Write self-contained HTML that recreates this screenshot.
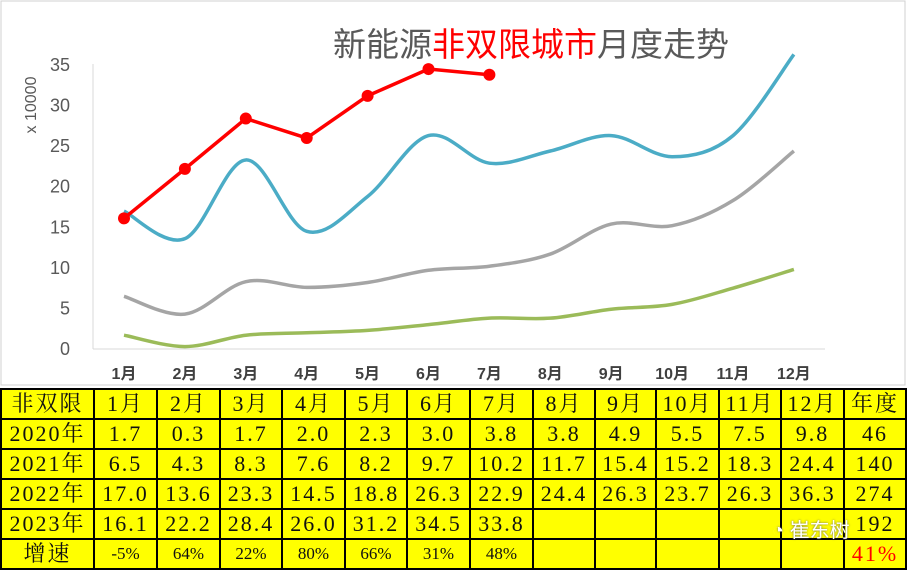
<!DOCTYPE html>
<html><head><meta charset="utf-8">
<style>
body{margin:0;width:907px;height:571px;overflow:hidden;background:#fff;font-family:"Liberation Sans","Noto Sans CJK SC",sans-serif}
#chart{position:absolute;left:0;top:0}
#tbl{position:absolute;left:0;top:388px;border-collapse:collapse;table-layout:fixed;background:#ffff00;font-family:"Liberation Serif","Noto Serif CJK SC",serif;}
#tbl td{border:2px solid #000;padding:0;text-align:center;font-size:22px;color:#111;height:28px;line-height:28px;letter-spacing:2px;white-space:nowrap;overflow:hidden;font-weight:normal}
#tbl td.s{font-size:17px;letter-spacing:0}
</style></head><body>
<svg id="chart" width="907" height="388">
<rect x="1" y="1" width="904" height="384" fill="#fff" stroke="#d0d0d0"/>
<text x="333" y="56" font-size="33" fill="#595959" font-family="Liberation Sans,Noto Sans CJK SC,sans-serif">新能源<tspan fill="#ff0000">非双限城市</tspan>月度走势</text>
<text transform="translate(36,105) rotate(-90)" font-size="16" fill="#595959" text-anchor="middle">x  10000</text>
<g id="axes"></g><g id="series"></g>
</svg>
<script>
const months=["1月","2月","3月","4月","5月","6月","7月","8月","9月","10月","11月","12月"];
const yTicks=[0,5,10,15,20,25,30,35];
const s2020=[1.7,0.3,1.7,2.0,2.3,3.0,3.8,3.8,4.9,5.5,7.5,9.8];
const s2021=[6.5,4.3,8.3,7.6,8.2,9.7,10.2,11.7,15.4,15.2,18.3,24.4];
const s2022=[17.0,13.6,23.3,14.5,18.8,26.3,22.9,24.4,26.3,23.7,26.3,36.3];
const s2023=[16.1,22.2,28.4,26.0,31.2,34.5,33.8];
const NS="http://www.w3.org/2000/svg";
const X=i=>124+i*60.9, Y=v=>349-v*8.114;
const ax=document.getElementById('axes'), sr=document.getElementById('series');
function mk(t,a,p){const e=document.createElementNS(NS,t);for(const k in a)e.setAttribute(k,a[k]);p.appendChild(e);return e;}
let l=mk('line',{x1:93,y1:349,x2:825,y2:349,stroke:'#d9d9d9'},ax);


l=mk('line',{x1:93,y1:64,x2:93,y2:349,stroke:'#d9d9d9'},ax);


yTicks.forEach(v=>{const t=mk('text',{x:70,y:Y(v)+6,'font-size':18,fill:'#595959','text-anchor':'end'},ax);t.textContent=v;

});
months.forEach((m,i)=>{const t=mk('text',{x:X(i),y:379,'font-size':16,fill:'#404040','text-anchor':'middle','font-weight':'bold'},ax);t.textContent=m;

});
function smooth(d){const p=d.map((v,i)=>[X(i),Y(v)]);let s=`M${p[0][0]},${p[0][1]}`;
for(let i=0;i<p.length-1;i++){const p0=p[i-1]||p[i],p1=p[i],p2=p[i+1],p3=p[i+2]||p2;
s+=` C${p1[0]+(p2[0]-p0[0])/6},${p1[1]+(p2[1]-p0[1])/6} ${p2[0]-(p3[0]-p1[0])/6},${p2[1]-(p3[1]-p1[1])/6} ${p2[0]},${p2[1]}`;}return s;}
[[s2020,'#9bbb59','line-2020'],[s2021,'#a5a5a5','line-2021'],[s2022,'#4bacc6','line-2022']].forEach(([d,c,n])=>{
const e=mk('path',{d:smooth(d),fill:'none',stroke:c,'stroke-width':3.5},sr);

});
const pl=mk('polyline',{points:s2023.map((v,i)=>X(i)+','+Y(v)).join(' '),fill:'none',stroke:'#ff0000','stroke-width':3.5},sr);


s2023.forEach((v,i)=>{const c=mk('circle',{cx:X(i),cy:Y(v),r:6,fill:'#ff0000'},sr);

});
</script>
<table id="tbl">
<colgroup><col style="width:93px"><col style="width:63px"><col style="width:63px"><col style="width:62px"><col style="width:63px"><col style="width:62px"><col style="width:63px"><col style="width:63px"><col style="width:62px"><col style="width:61px"><col style="width:63px"><col style="width:62px"><col style="width:63px"><col style="width:62px"></colgroup>
<tr><td>非双限</td><td>1月</td><td>2月</td><td>3月</td><td>4月</td><td>5月</td><td>6月</td><td>7月</td><td>8月</td><td>9月</td><td>10月</td><td>11月</td><td>12月</td><td>年度</td></tr>
<tr><td>2020年</td><td>1.7</td><td>0.3</td><td>1.7</td><td>2.0</td><td>2.3</td><td>3.0</td><td>3.8</td><td>3.8</td><td>4.9</td><td>5.5</td><td>7.5</td><td>9.8</td><td>46</td></tr>
<tr><td>2021年</td><td>6.5</td><td>4.3</td><td>8.3</td><td>7.6</td><td>8.2</td><td>9.7</td><td>10.2</td><td>11.7</td><td>15.4</td><td>15.2</td><td>18.3</td><td>24.4</td><td>140</td></tr>
<tr><td>2022年</td><td>17.0</td><td>13.6</td><td>23.3</td><td>14.5</td><td>18.8</td><td>26.3</td><td>22.9</td><td>24.4</td><td>26.3</td><td>23.7</td><td>26.3</td><td>36.3</td><td>274</td></tr>
<tr><td>2023年</td><td>16.1</td><td>22.2</td><td>28.4</td><td>26.0</td><td>31.2</td><td>34.5</td><td>33.8</td><td></td><td></td><td></td><td></td><td></td><td>192</td></tr>
<tr><td>增速</td><td class="s">-5%</td><td class="s">64%</td><td class="s">22%</td><td class="s">80%</td><td class="s">66%</td><td class="s">31%</td><td class="s">48%</td><td></td><td></td><td></td><td></td><td></td><td style="color:#ff0000">41%</td></tr>
</table>
<div style="position:absolute;left:772px;top:514px;font-size:20px;color:#fff;text-shadow:0 0 2px #666;font-family:'Liberation Sans','Noto Sans CJK SC',sans-serif">◔ 崔东树</div>
</body></html>
